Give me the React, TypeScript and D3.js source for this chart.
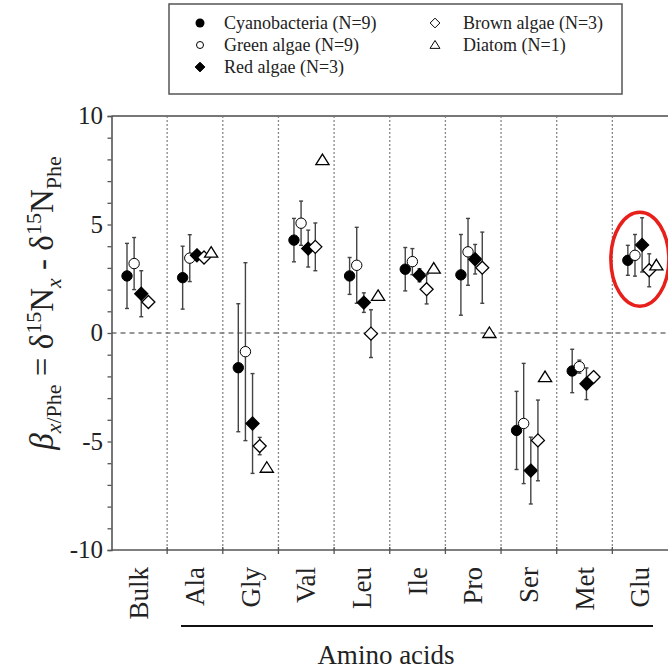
import React, { useEffect, useRef } from 'react';
import * as d3 from 'd3';

const categories = ['Bulk', 'Ala', 'Gly', 'Val', 'Leu', 'Ile', 'Pro', 'Ser', 'Met', 'Glu'];
const seriesNames = ['Cyanobacteria (N=9)', 'Green algae (N=9)', 'Red algae (N=3)', 'Brown algae (N=3)', 'Diatom (N=1)'];
const seriesKeys = ['cyano', 'green', 'red', 'brown', 'diatom'];

// mean values per category (null = no data)
const cyanoMean = [2.63, 2.55, -1.6, 4.28, 2.63, 2.94, 2.68, -4.49, -1.75, 3.35];
const cyanoErr = [1.5, 1.45, 2.95, 1.0, 0.85, 1.0, 1.86, 1.8, 1.0, 0.69];
const greenMean = [3.2, 3.45, -0.86, 5.06, 3.12, 3.29, 3.74, -4.17, -1.55, 3.58];
const greenErr = [1.2, 1.08, 4.1, 1.02, 1.75, 0.6, 1.54, 2.77, 0.3, 0.96];
const redMean = [1.81, 3.58, -4.17, 3.89, 1.4, 2.66, 3.4, -6.34, -2.34, 4.06];
const redErr = [1.06, 0.2, 2.3, 0.85, 0.45, 0.3, 0.68, 1.54, 0.73, 1.25];
const brownMean = [1.43, 3.48, -5.21, 3.97, -0.03, 2.02, 3.01, -4.95, -2.03, 2.89];
const brownErr = [0, 0.2, 0.4, 1.1, 1.1, 0.68, 1.64, 1.86, 0, 0.76];
const diatomMean = [null, 3.7, -6.21, 7.97, 1.71, 2.97, 0, -2.03, null, 3.12];

const yTicks = [-10, -5, 0, 5, 10];

const W = 668;
const H = 672;
const serif = 'Liberation Serif, Times New Roman, Times, DejaVu Serif, serif';

function drawMarker(g: any, key: string, x: number, y: number) {
  if (key === 'cyano' || key === 'green') {
    g.append('circle').attr('cx', x).attr('cy', y).attr('r', 5.2)
      .attr('fill', key === 'cyano' ? '#000' : '#fff').attr('stroke', '#000').attr('stroke-width', 1);
  } else if (key === 'red' || key === 'brown') {
    const s = 6.5;
    g.append('path').attr('d', `M${x},${y - s}L${x + s},${y}L${x},${y + s}L${x - s},${y}Z`)
      .attr('fill', key === 'red' ? '#000' : '#fff').attr('stroke', '#000').attr('stroke-width', 1.3);
  } else {
    const s = 6;
    g.append('path').attr('d', `M${x},${y - s}L${x + s * 1.1},${y + s * 0.75}L${x - s * 1.1},${y + s * 0.75}Z`)
      .attr('fill', '#fff').attr('stroke', '#000').attr('stroke-width', 1.3);
  }
}

const App = () => {
  const ref = useRef<SVGSVGElement | null>(null);

  useEffect(() => {
    if (!ref.current) return;
    const svg = d3.select(ref.current);
    svg.selectAll('*').remove();

    const left = 111.5;
    const right = 668;
    const top = 116;
    const bottom = 550;

    const x = d3.scaleBand().domain(categories).range([left, right]);
    const inner = d3.scalePoint().domain(seriesKeys).range([15.5, 44]);
    const y = d3.scaleLinear().domain([-10, 10]).range([bottom, top]);

    const means: Record<string, (number | null)[]> = {
      cyano: cyanoMean, green: greenMean, red: redMean, brown: brownMean, diatom: diatomMean,
    };
    const errs: Record<string, number[]> = {
      cyano: cyanoErr, green: greenErr, red: redErr, brown: brownErr,
    };

    // category separators
    svg.append('g').selectAll('line')
      .data(categories.slice(1))
      .enter().append('line')
      .attr('x1', (d) => x(d)!).attr('x2', (d) => x(d)!)
      .attr('y1', top).attr('y2', bottom)
      .attr('stroke', '#888').attr('stroke-width', 1.3).attr('stroke-dasharray', '2,2');

    // zero line
    svg.append('line')
      .attr('x1', left).attr('x2', right).attr('y1', y(0)).attr('y2', y(0))
      .attr('stroke', '#777').attr('stroke-width', 1.5).attr('stroke-dasharray', '5,4');

    // frame top
    svg.append('line').attr('x1', left).attr('x2', right).attr('y1', top).attr('y2', top)
      .attr('stroke', '#777').attr('stroke-width', 2);

    // y axis
    const yAxis = svg.append('g').attr('transform', `translate(${left},0)`)
      .call(d3.axisLeft(y).ticks(20).tickSize(4).tickFormat(() => ''));
    yAxis.select('.domain').attr('stroke', '#555').attr('stroke-width', 1.6);
    yAxis.selectAll('.tick line').attr('stroke', '#555').attr('stroke-width', 1.3);
    svg.append('g').selectAll('text').data(yTicks).enter().append('text')
      .attr('x', 103).attr('y', (d) => y(d) + 8)
      .attr('text-anchor', 'end').style('font-family', serif).attr('font-size', 25)
      .attr('fill', '#222').text((d) => String(d));

    // x axis
    const boundaries = categories.map((c) => x(c)!).concat([right]);
    svg.append('line').attr('x1', left).attr('x2', right).attr('y1', bottom).attr('y2', bottom)
      .attr('stroke', '#555').attr('stroke-width', 1.6);
    svg.append('g').selectAll('line').data(boundaries.slice(1, -1)).enter().append('line')
      .attr('x1', (d) => d).attr('x2', (d) => d).attr('y1', bottom - 3).attr('y2', bottom + 4)
      .attr('stroke', '#555').attr('stroke-width', 1.3);
    svg.append('g').selectAll('text').data(categories).enter().append('text')
      .attr('transform', (d) => `translate(${x(d)! + x.bandwidth() / 2 + 9},567) rotate(-90)`)
      .attr('text-anchor', 'end').style('font-family', serif).attr('font-size', 27)
      .attr('fill', '#222').text((d) => d);

    // amino acid bracket
    svg.append('line').attr('x1', 181).attr('x2', 653).attr('y1', 626).attr('y2', 626)
      .attr('stroke', '#111').attr('stroke-width', 2);
    svg.append('text').attr('x', 386).attr('y', 664).attr('text-anchor', 'middle')
      .style('font-family', serif).attr('font-size', 27).attr('fill', '#222').text('Amino acids');

    // data
    const dg = svg.append('g');
    seriesKeys.forEach((key) => {
      categories.forEach((c, i) => {
        const v = means[key][i];
        if (v === null || v === undefined) return;
        const cx = x(c)! + inner(key)!;
        const e = errs[key] ? errs[key][i] : 0;
        if (e > 0) {
          dg.append('line').attr('x1', cx).attr('x2', cx).attr('y1', y(v + e)).attr('y2', y(v - e))
            .attr('stroke', '#444').attr('stroke-width', 1.4);
          [v + e, v - e].forEach((t) => {
            dg.append('line').attr('x1', cx - 2).attr('x2', cx + 2).attr('y1', y(t)).attr('y2', y(t))
              .attr('stroke', '#444').attr('stroke-width', 1.4);
          });
        }
        drawMarker(dg, key, cx, y(v));
      });
    });

    // highlight ellipse around Glu
    svg.append('ellipse').attr('cx', x('Glu')! + 27.5).attr('cy', y(3.4))
      .attr('rx', 29).attr('ry', 47)
      .attr('fill', 'none').attr('stroke', '#e8201c').attr('stroke-width', 3.5);

    // y label
    const yl = svg.append('text').attr('transform', 'translate(53,303) rotate(-90)')
      .attr('text-anchor', 'middle').style('font-family', serif).attr('font-size', 33).attr('fill', '#222');
    yl.append('tspan').attr('font-style', 'italic').text('β');
    yl.append('tspan').attr('font-size', 22).attr('dy', 8).attr('font-style', 'italic').text('x');
    yl.append('tspan').attr('font-size', 22).text('/Phe');
    yl.append('tspan').attr('dy', -8).text(' = δ');
    yl.append('tspan').attr('font-size', 22).attr('dy', -12).text('15');
    yl.append('tspan').attr('dy', 12).text('N');
    yl.append('tspan').attr('font-size', 22).attr('dy', 8).attr('font-style', 'italic').text('x');
    yl.append('tspan').attr('dy', -8).text(' - δ');
    yl.append('tspan').attr('font-size', 22).attr('dy', -12).text('15');
    yl.append('tspan').attr('dy', 12).text('N');
    yl.append('tspan').attr('font-size', 22).attr('dy', 8).text('Phe');

    // legend
    svg.append('rect').attr('x', 169).attr('y', 4).attr('width', 453).attr('height', 90)
      .attr('fill', '#fff').attr('stroke', '#555').attr('stroke-width', 1.5);
    const pos = [[200, 23], [200, 45], [200, 67], [435, 23], [435, 45]];
    seriesKeys.forEach((key, i) => {
      const [mx, my] = pos[i];
      const lg = svg.append('g');
      if (key === 'green') {
        lg.append('circle').attr('cx', mx).attr('cy', my).attr('r', 3.5)
          .attr('fill', '#fff').attr('stroke', '#000').attr('stroke-width', 1);
      } else if (key === 'cyano') {
        lg.append('circle').attr('cx', mx).attr('cy', my).attr('r', 4.5).attr('fill', '#000');
      } else {
        drawMarker(lg, key, mx, my);
        lg.selectAll('path').attr('transform', `translate(${mx},${my}) scale(0.75) translate(${-mx},${-my})`);
      }
      svg.append('text').attr('x', mx + (i < 3 ? 24 : 28)).attr('y', my + 6)
        .style('font-family', serif).attr('font-size', 18).attr('fill', '#222').text(seriesNames[i]);
    });
  }, []);

  return (
    <svg ref={ref} width={W} height={H} style={{ position: 'absolute', left: 0, top: 0, background: '#fff' }} />
  );
};

export default App;
